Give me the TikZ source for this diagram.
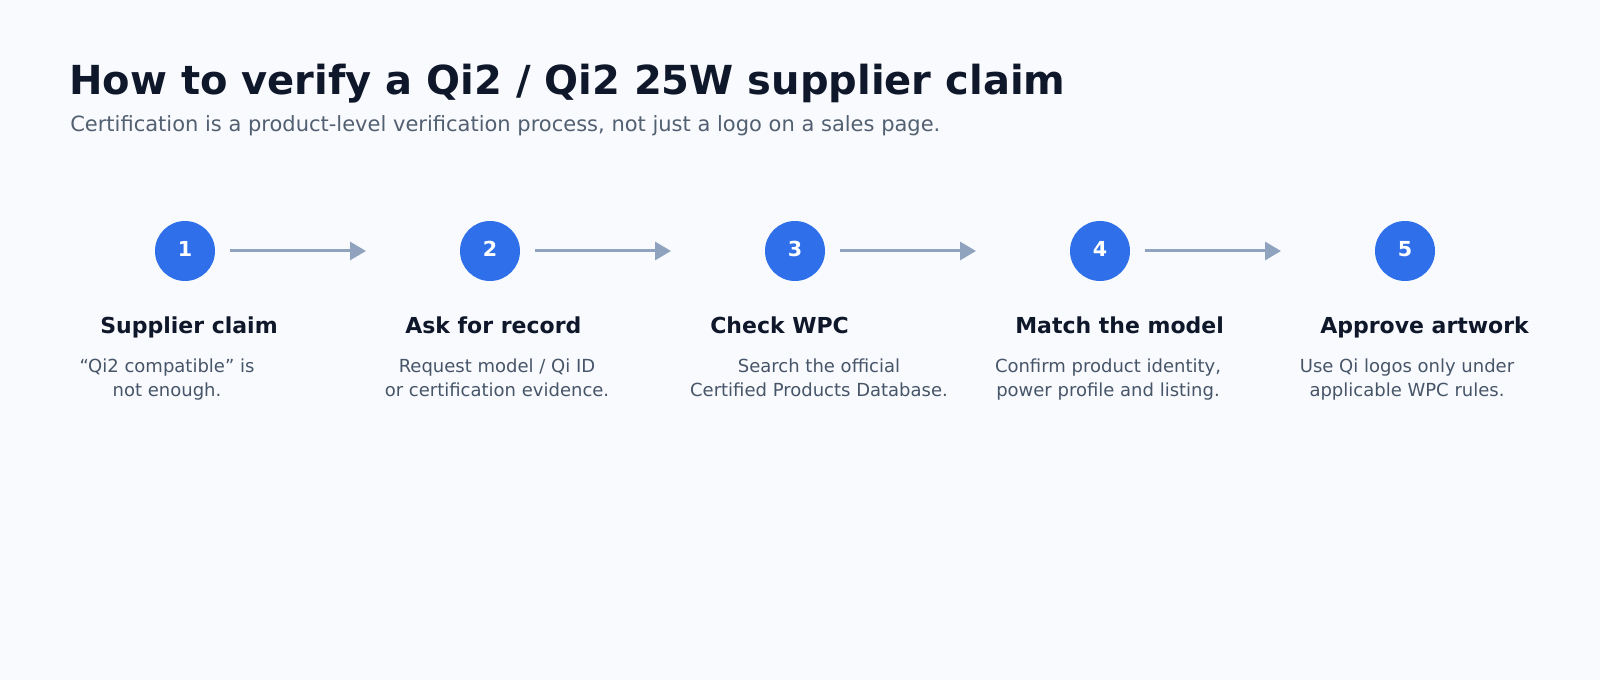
\documentclass[tikz,border=0pt]{standalone}
\usepackage{fontspec}
\setmainfont{DejaVu Sans}
\usetikzlibrary{arrows.meta}
\definecolor{bgc}{HTML}{F8FAFD}
\definecolor{titlec}{HTML}{0F172A}
\definecolor{subc}{HTML}{526071}
\definecolor{descc}{HTML}{475569}
\definecolor{circc}{HTML}{2F70EA}
\definecolor{arrc}{HTML}{8FA3BF}
\begin{document}
\begin{tikzpicture}[x=0.75pt,y=-0.75pt,
  stepcirc/.style={circle,fill=circc,draw=none,minimum size=45pt,inner sep=0pt,outer sep=0pt},
  stepnum/.style={anchor=base,inner sep=0pt,text=white,font=\fontsize{15.5}{18}\selectfont\bfseries},
  steptitle/.style={anchor=base west,inner sep=0pt,text=titlec,font=\fontsize{16.5}{20}\selectfont\bfseries},
  stepdesc/.style={anchor=base,inner sep=0pt,text=descc,align=center,font=\fontsize{13.5}{18}\selectfont},
  flow/.style={draw=arrc,line width=2.25pt,-{Triangle[length=12pt,width=13.5pt]},shorten <=11.25pt,shorten >=70.5pt}
]
\fill[bgc] (0,0) rectangle (1600,680);
\useasboundingbox (0,0) rectangle (1600,680);
\node[anchor=base west,inner sep=0pt,text=titlec,font=\fontsize{30}{36}\selectfont\bfseries] (title) at (69,94.5) {How to verify a Qi2 / Qi2 25W supplier claim};
\node[anchor=base west,inner sep=0pt,text=subc,font=\fontsize{15.75}{19}\selectfont] (subtitle) at (70,131.5) {Certification is a product-level verification process, not just a logo on a sales page.};
\foreach \i/\cx in {1/185,2/490,3/795,4/1100,5/1405}{
  \node[stepcirc] (c\i) at (\cx,251) {};
  \node[stepnum] (n\i) at (\cx,257) {\i};
}
\foreach \a/\b in {1/2,2/3,3/4,4/5}{
  \draw[flow] (c\a) -- (c\b);
}
\node[steptitle] (t1) at (100,334) {Supplier claim};
\node[steptitle] (t2) at (405,334) {Ask for record};
\node[steptitle] (t3) at (710,334) {Check WPC};
\node[steptitle] (t4) at (1015,334) {Match the model};
\node[steptitle] (t5) at (1320,334) {Approve artwork};
\node[stepdesc] (d1) at (167,397) {“Qi2 compatible” is\\not enough.};
\node[stepdesc] (d2) at (497,397) {Request model / Qi ID\\or certification evidence.};
\node[stepdesc] (d3) at (819,397) {Search the official\\Certified Products Database.};
\node[stepdesc] (d4) at (1108,397) {Confirm product identity,\\power profile and listing.};
\node[stepdesc] (d5) at (1407,397) {Use Qi logos only under\\applicable WPC rules.};
\end{tikzpicture}
\end{document}
